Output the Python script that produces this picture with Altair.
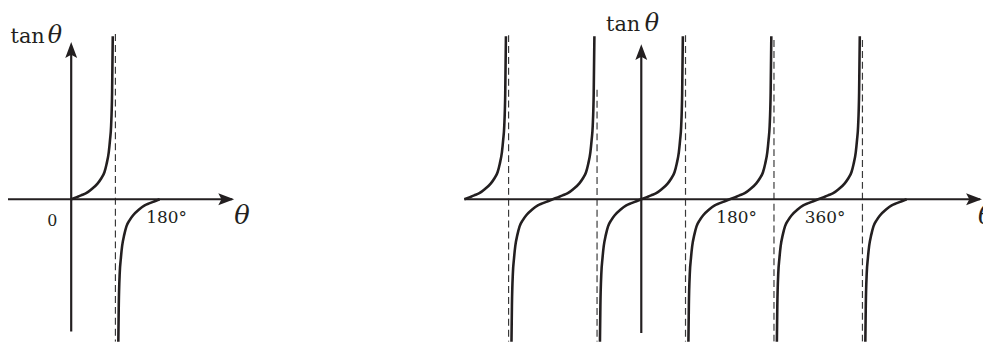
import altair as alt
import pandas as pd

# One rising half-branch of the tangent curve:
# degrees past the zero crossing, and the curve's value (tan units)
SHAPE_DEG = [0, 10, 20, 30.5, 42, 54, 61, 67.6, 72, 76.4, 79, 81.2, 83.2, 84.6]
SHAPE_VAL = [0, 0.17, 0.34, 0.53, 0.9, 1.4, 1.82, 2.37, 3.1, 4.11, 5.2, 6.43, 9.3, 14.3]

# Branches: zero crossing (degrees) and which halves are drawn
LEFT_CROSS = [0, 180]
LEFT_HALVES = ["upper", "lower"]
RIGHT_CROSS = [-360, -180, 0, 180, 360, 540]
RIGHT_HALVES = ["upper", "both", "both", "both", "both", "lower"]

# Asymptotes (degrees) and where their dashes start (value)
LEFT_ASYM = [90]
LEFT_ASYM_TOP = [14.48]
RIGHT_ASYM = [-270, -90, 90, 270, 450]
RIGHT_ASYM_TOP = [14.39, 9.6, 14.39, 13.96, 13.96]

# Tick labels on the theta axis
LEFT_TICK_POS = [180]
LEFT_TICK_TEXT = ["180°"]
RIGHT_TICK_POS = [180, 360]
RIGHT_TICK_TEXT = ["180°", "360°"]

Y_LO, Y_HI = -12.48, 16.65
INK = "#231f20"
SERIF = "DejaVu Serif"
ARROW = "M0,0 L-2,-0.75 L-1.6,0 L-2,0.75 Z"


def branch_frame(cross, halves):
    rows = []
    for b, (c, h) in enumerate(zip(cross, halves)):
        pts = []
        if h in ("lower", "both"):
            pts += [(c - d, -v) for d, v in zip(SHAPE_DEG[::-1], SHAPE_VAL[::-1])]
        if h in ("upper", "both"):
            start = 1 if h == "both" else 0
            pts += [(c + d, v) for d, v in list(zip(SHAPE_DEG, SHAPE_VAL))[start:]]
        for i, (x, y) in enumerate(pts):
            rows.append({"b": b, "i": i, "x": x, "y": y})
    return pd.DataFrame(rows)


def panel(width, x_dom, cross, halves, asym, asym_top, tick_pos, tick_text,
          axis_x0, axis_tip, yaxis_lo, yaxis_tip, tan_y, tan_dx, theta_dx,
          xtheta_dx, zero_label):
    xs = alt.Scale(domain=x_dom, nice=False, zero=False)
    ys = alt.Scale(domain=[Y_LO, Y_HI], nice=False, zero=False)

    def X(f):
        return alt.X(f, type="quantitative", scale=xs, axis=None)

    def Y(f):
        return alt.Y(f, type="quantitative", scale=ys, axis=None)

    axes_df = pd.DataFrame({
        "x": [axis_x0, 0], "x2": [axis_tip - 4, 0],
        "y": [0, yaxis_lo], "y2": [0, yaxis_tip - 0.4],
    })
    axes = alt.Chart(axes_df).mark_rule(strokeWidth=2.2, color=INK, clip=True).encode(
        x=X("x"), x2="x2", y=Y("y"), y2="y2")

    asym_df = pd.DataFrame({"x": asym, "y": asym_top, "y2": [Y_LO] * len(asym)})
    dashes = alt.Chart(asym_df).mark_rule(
        strokeDash=[7, 4], strokeWidth=1.2, color="#3a3a3a", clip=True
    ).encode(x=X("x"), y=Y("y"), y2="y2")

    curves = alt.Chart(branch_frame(cross, halves)).mark_line(
        strokeWidth=2.6, color=INK, interpolate="monotone", clip=True
    ).encode(x=X("x"), y=Y("y"), detail="b:N", order="i:Q")

    arr_df = pd.DataFrame({"x": [axis_tip, 0], "y": [0, yaxis_tip], "ang": [0, 270]})
    arrows = alt.Chart(arr_df).mark_point(
        shape=ARROW, filled=True, size=256, color=INK, opacity=1, strokeWidth=0
    ).encode(x=X("x"), y=Y("y"), angle=alt.Angle("ang:Q", scale=None))

    tick_df = pd.DataFrame({"x": tick_pos, "y": [0] * len(tick_pos), "t": tick_text})
    ticks = alt.Chart(tick_df).mark_text(
        font=SERIF, fontSize=17, align="left", baseline="alphabetic",
        dx=-13.5, dy=23.5, color=INK, clip=True
    ).encode(x=X("x"), y=Y("y"), text="t:N")

    tan_df = pd.DataFrame({"x": [0], "y": [tan_y], "t": ["tan"]})
    tan_lbl = alt.Chart(tan_df).mark_text(
        font=SERIF, fontSize=21, align="right", baseline="alphabetic",
        dx=tan_dx, color=INK, clip=True
    ).encode(x=X("x"), y=Y("y"), text="t:N")
    th_df = pd.DataFrame({"x": [0], "y": [tan_y], "t": ["θ"]})
    th_lbl = alt.Chart(th_df).mark_text(
        font=SERIF, fontSize=24, fontStyle="italic", align="left",
        baseline="alphabetic", dx=theta_dx, color=INK, clip=True
    ).encode(x=X("x"), y=Y("y"), text="t:N")

    xth_df = pd.DataFrame({"x": [axis_tip], "y": [0], "t": ["θ"]})
    xth_lbl = alt.Chart(xth_df).mark_text(
        font=SERIF, fontSize=26, fontStyle="italic", align="left",
        baseline="alphabetic", dx=xtheta_dx, dy=25, color=INK, clip=True
    ).encode(x=X("x"), y=Y("y"), text="t:N")

    layers = [dashes, axes, curves, arrows, ticks, tan_lbl, th_lbl, xth_lbl]
    if zero_label:
        z_df = pd.DataFrame({"x": [0], "y": [0], "t": ["0"]})
        layers.append(alt.Chart(z_df).mark_text(
            font=SERIF, fontSize=16, align="center", baseline="alphabetic",
            dx=-19, dy=26.5, color=INK, clip=True
        ).encode(x=X("x"), y=Y("y"), text="t:N"))
    return alt.layer(*layers).properties(width=width, height=335)


left = panel(300, [-128.6, 476.9], LEFT_CROSS, LEFT_HALVES, LEFT_ASYM, LEFT_ASYM_TOP,
             LEFT_TICK_POS, LEFT_TICK_TEXT, -128.6, 331.6, -11.6, 13.78,
             13.72, -26.7, -23.7, 0, True)
right = panel(683, [-683.1, 695.3], RIGHT_CROSS, RIGHT_HALVES, RIGHT_ASYM, RIGHT_ASYM_TOP,
              RIGHT_TICK_POS, RIGHT_TICK_TEXT, -360, 693.2, -11.72, 13.6,
              14.74, -1, 3.5, -4, False)

chart = alt.hconcat(left, right, spacing=0, bounds="flush").properties(
    padding=0
).configure_view(stroke=None)

chart.save("out.html", embed_options={"renderer": "svg", "actions": False})
